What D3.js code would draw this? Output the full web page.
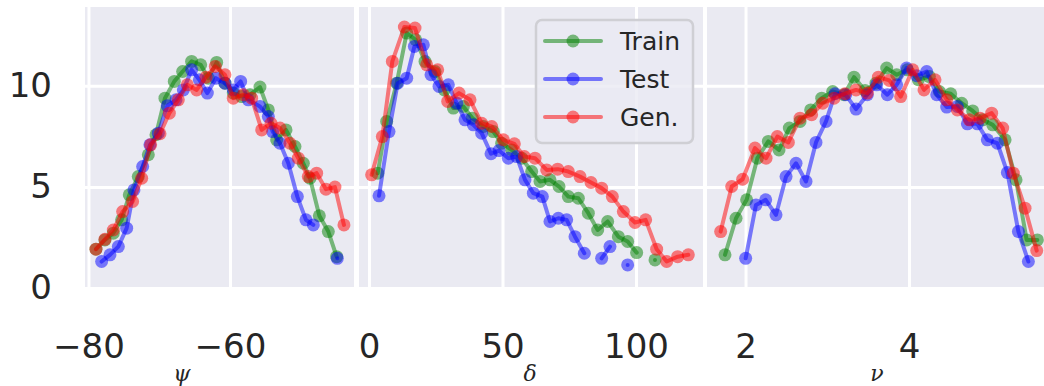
<!DOCTYPE html>
<html>
<head>
<meta charset="utf-8">
<script src="https://cdn.jsdelivr.net/npm/d3@7"></script>
<style>
  body { margin: 0; background: #fff; }
  svg { display: block; }
</style>
</head>
<body>
<svg width="1044" height="386"></svg>
<script>
// data, [x, y]; y null = gap in the line
var psiTrain = [[-78.94,1.92],[-77.67,2.38],[-76.49,2.71],[-75.31,3.37],[-74.23,4.61],[-72.96,5.51],
  [-71.54,6.59],[-70.46,7.58],[-69.19,9.39],[-67.87,10.22],[-66.69,10.71],[-65.42,11.21],[-64.14,11.04],
  [-63.06,10.38],[-61.88,11.16],[-60.71,10.13],[-59.53,9.64],[-58.35,9.47],[-57.17,9.56],[-55.76,9.94],
  [-54.58,8.81],[-53.40,7.33],[-52.08,7.82],[-50.81,7.00],[-49.63,6.17],[-48.69,5.43],[-47.37,3.57],
  [-46.10,2.79],[-44.92,1.55]];
var psiTest = [[-78.14,1.31],[-76.96,1.64],[-75.78,2.05],[-74.60,2.96],[-73.57,4.85],[-72.34,6.01],
  [-71.31,7.08],[-70.13,7.66],[-68.86,9.01],[-67.63,9.31],[-66.59,9.80],[-65.42,10.79],[-64.33,10.30],
  [-63.20,9.64],[-61.98,10.38],[-60.71,10.13],[-59.53,9.80],[-58.49,10.22],[-57.41,9.31],[-55.76,8.98],
  [-54.58,8.48],[-53.97,7.74],[-52.93,7.16],[-51.75,6.17],[-50.48,4.52],[-49.26,3.37],[-48.22,3.12],
  [-46.5,null],[-44.83,1.47]];
var psiGen = [[-78.94,1.92],[-77.67,2.41],[-76.49,2.87],[-75.17,3.78],[-73.76,4.28],[-72.48,5.43],
  [-71.21,7.08],[-69.89,7.63],[-68.57,8.65],[-67.30,9.31],[-66.03,10.05],[-64.71,9.80],[-63.39,10.43],
  [-62.07,10.96],[-60.71,10.55],[-59.53,9.39],[-58.11,9.56],[-56.94,9.39],[-55.52,7.82],[-54.20,8.15],
  [-52.93,7.91],[-51.52,7.16],[-50.34,6.42],[-48.93,5.51],[-47.75,5.68],[-46.43,4.89],[-45.16,4.99],
  [-43.89,3.12]];

var deltaTrain = [[3.25,5.68],[6.62,8.24],[10.37,10.13],[14.11,12.61],[17.48,12.28],[20.98,11.21],
  [24.72,10.71],[28.22,9.80],[31.59,8.90],[35.33,8.98],[38.70,8.40],[42.82,7.99],[46.57,7.74],
  [49.69,7.16],[53.44,6.83],[57.18,6.42],[60.93,5.76],[64.05,5.27],[67.79,5.35],[71.17,5.02],
  [74.66,4.52],[78.41,4.44],[82.15,3.70],[85.65,2.87],[89.39,3.29],[93.39,2.54],[96.88,2.30],
  [100.25,1.75],[103.7,null],[107.12,1.39]];
var deltaTest = [[3.75,4.56],[7.49,7.74],[10.74,10.13],[14.11,10.38],[17.0,11.95],[20.35,12.03],
  [23.22,10.55],[26.22,9.97],[29.72,10.05],[32.84,9.14],[35.96,8.32],[39.08,8.07],[42.20,7.66],
  [45.70,6.64],[48.69,6.80],[52.19,6.42],[55.31,6.50],[58.43,5.35],[61.55,4.69],[64.92,4.52],
  [67.79,3.29],[70.91,3.45],[74.04,3.37],[77.16,2.54],[80.65,1.72],[83.9,null],[87.14,1.47],
  [90.26,2.05],[93.5,null],[96.88,1.14]];
var deltaGen = [[0.98,5.60],[4.99,7.49],[8.74,11.21],[13.24,12.91],[17.23,12.86],[21.60,11.04],
  [25.72,10.79],[29.47,9.23],[33.71,9.64],[37.83,9.31],[42.20,8.15],[45.95,7.99],[50.32,7.33],
  [54.44,7.13],[58.18,6.50],[62.18,6.42],[66.55,5.84],[70.66,5.88],[74.66,5.76],[79.03,5.51],
  [83.15,5.22],[87.14,4.94],[91.14,4.52],[95.26,3.78],[99.63,3.24],[103.62,3.37],[107.74,1.92],
  [111.49,1.31],[115.61,1.55],[119.60,1.64]];

var nuTrain = [[1.749,1.64],[1.884,3.45],[2.014,4.36],[2.145,6.42],[2.279,7.25],[2.410,6.83],
  [2.536,7.91],[2.667,8.24],[2.797,8.81],[2.932,9.39],[3.066,9.72],[3.205,9.56],[3.327,10.43],
  [3.462,9.77],[3.596,10.13],[3.727,10.88],[3.849,10.55],[3.980,10.79],[4.114,10.30],[4.249,10.46],
  [4.371,9.72],[4.510,9.61],[4.644,9.14],[4.779,8.76],[4.901,8.32],[5.024,8.07],[5.175,7.33],
  [5.309,5.35],[5.439,2.38],[5.570,2.38]];
var nuTest = [[2.002,1.47],[2.128,4.11],[2.247,4.36],[2.373,3.62],[2.496,5.51],[2.618,6.17],
  [2.740,5.27],[2.862,7.20],[2.985,8.24],[3.095,9.61],[3.225,9.56],[3.352,8.85],[3.490,9.56],
  [3.604,10.05],[3.735,9.56],[3.849,10.05],[3.971,10.88],[4.094,10.50],[4.216,10.71],[4.339,9.56],
  [4.461,8.95],[4.591,8.98],[4.714,8.12],[4.836,8.12],[4.958,7.33],[5.081,7.16],[5.203,5.71],
  [5.338,2.79],[5.460,1.31]];
var nuGen = [[1.696,2.79],[1.831,5.02],[1.965,5.38],[2.116,6.92],[2.251,6.42],[2.389,7.49],
  [2.524,7.20],[2.667,8.40],[2.809,8.57],[2.944,9.14],[3.083,9.39],[3.217,9.61],[3.352,9.80],
  [3.490,9.64],[3.625,10.43],[3.759,10.27],[3.898,9.47],[4.045,10.79],[4.183,9.80],[4.318,10.30],
  [4.461,9.31],[4.591,8.81],[4.738,8.32],[4.869,8.40],[5.011,8.65],[5.146,7.91],[5.276,5.68],
  [5.419,3.95],[5.562,1.85]];

var seriesNames = ["Train", "Test", "Gen."];
var seriesColors = ["green", "blue", "red"];
var yTicks = [0, 5, 10];
var yDomain = [0, 13.9];

var panels = [
  { label: "ψ", labelX: 182, domain: [-80.49, -42.47], ticks: [-80, -60], left: 85, right: 354,
    series: [psiTrain, psiTest, psiGen] },
  { label: "δ", labelX: 530, domain: [-3.75, 125.1], ticks: [0, 50, 100], left: 359, right: 703,
    series: [deltaTrain, deltaTest, deltaGen] },
  { label: "ν", labelX: 877, domain: [1.529, 5.651], ticks: [2, 4], left: 707, right: 1044,
    series: [nuTrain, nuTest, nuGen] }
];

var svg = d3.select("svg");
var plotTop = 7, plotBottom = 288;
var ink = "#262626";
var font = "'DejaVu Sans', sans-serif";

var yScale = d3.scaleLinear().domain(yDomain).range([plotBottom, plotTop]);

panels.forEach(function(p, i) {
  var xScale = d3.scaleLinear().domain(p.domain).range([p.left, p.right]);

  svg.append("rect")
    .attr("x", p.left).attr("y", plotTop)
    .attr("width", p.right - p.left).attr("height", plotBottom - plotTop)
    .attr("fill", "#eaeaf2");

  // grid
  svg.append("g")
    .attr("transform", "translate(0," + plotBottom + ")")
    .call(d3.axisBottom(xScale).tickValues(p.ticks).tickSize(-(plotBottom - plotTop)).tickFormat(""))
    .call(function(g) { g.select(".domain").remove(); })
    .selectAll("line").attr("stroke", "#fff").attr("stroke-width", 3);

  svg.append("g")
    .attr("transform", "translate(" + p.left + ",0)")
    .call(d3.axisLeft(yScale).tickValues(yTicks).tickSize(-(p.right - p.left)).tickFormat(""))
    .call(function(g) { g.select(".domain").remove(); })
    .selectAll("line").attr("stroke", "#fff").attr("stroke-width", 3);

  // tick labels
  var xa = svg.append("g")
    .attr("transform", "translate(0," + plotBottom + ")")
    .call(d3.axisBottom(xScale).tickValues(p.ticks).tickSize(0).tickPadding(46)
      .tickFormat(function(d) { return d < 0 ? "\u2212" + Math.abs(d) : d; }));
  xa.select(".domain").remove();
  xa.selectAll("text").attr("fill", ink).style("font-family", font).style("font-size", "34px");

  if (i === 0) {
    var ya = svg.append("g")
      .attr("transform", "translate(" + p.left + ",0)")
      .call(d3.axisLeft(yScale).tickValues(yTicks).tickSize(0).tickPadding(33));
    ya.select(".domain").remove();
    ya.selectAll("text").attr("fill", ink).style("font-family", font).style("font-size", "34px");
  }

  svg.append("text")
    .attr("x", p.labelX)
    .attr("y", 381)
    .attr("text-anchor", "middle")
    .attr("fill", ink)
    .style("font-family", "'DejaVu Serif', serif")
    .style("font-style", "italic")
    .style("font-size", "22px")
    .text(p.label);

  var clipId = "clip" + i;
  svg.append("clipPath").attr("id", clipId)
    .append("rect").attr("x", p.left).attr("y", plotTop - 10)
    .attr("width", p.right - p.left).attr("height", plotBottom - plotTop + 20);

  var line = d3.line()
    .defined(function(d) { return d[1] !== null; })
    .x(function(d) { return xScale(d[0]); })
    .y(function(d) { return yScale(d[1]); });

  var plot = svg.append("g").attr("clip-path", "url(#" + clipId + ")");
  p.series.forEach(function(data, k) {
    plot.append("path")
      .datum(data)
      .attr("d", line)
      .attr("fill", "none")
      .attr("stroke", seriesColors[k])
      .attr("stroke-width", 4)
      .attr("stroke-linejoin", "round")
      .attr("stroke-linecap", "round")
      .attr("opacity", 0.5);
    plot.append("g").selectAll("circle")
      .data(data.filter(function(d) { return d[1] !== null; }))
      .enter().append("circle")
      .attr("cx", function(d) { return xScale(d[0]); })
      .attr("cy", function(d) { return yScale(d[1]); })
      .attr("r", 6.5)
      .attr("fill", seriesColors[k])
      .attr("opacity", 0.5);
  });
});

// legend
var legend = svg.append("g");
legend.append("rect")
  .attr("x", 536).attr("y", 20).attr("width", 157).attr("height", 123)
  .attr("rx", 6)
  .attr("fill", "#eaeaf2").attr("fill-opacity", 0.8)
  .attr("stroke", "#cfcfd4").attr("stroke-width", 2.5);

seriesNames.forEach(function(name, k) {
  var y = 41 + k * 38;
  legend.append("line")
    .attr("x1", 545).attr("x2", 601).attr("y1", y).attr("y2", y)
    .attr("stroke", seriesColors[k]).attr("stroke-width", 4)
    .attr("stroke-linecap", "round").attr("opacity", 0.5);
  legend.append("circle")
    .attr("cx", 573).attr("cy", y).attr("r", 6.5)
    .attr("fill", seriesColors[k]).attr("opacity", 0.5);
  legend.append("text")
    .attr("x", 620).attr("y", y).attr("dy", "0.35em")
    .attr("fill", ink)
    .style("font-family", font).style("font-size", "25px")
    .text(name);
});
</script>
</body>
</html>
